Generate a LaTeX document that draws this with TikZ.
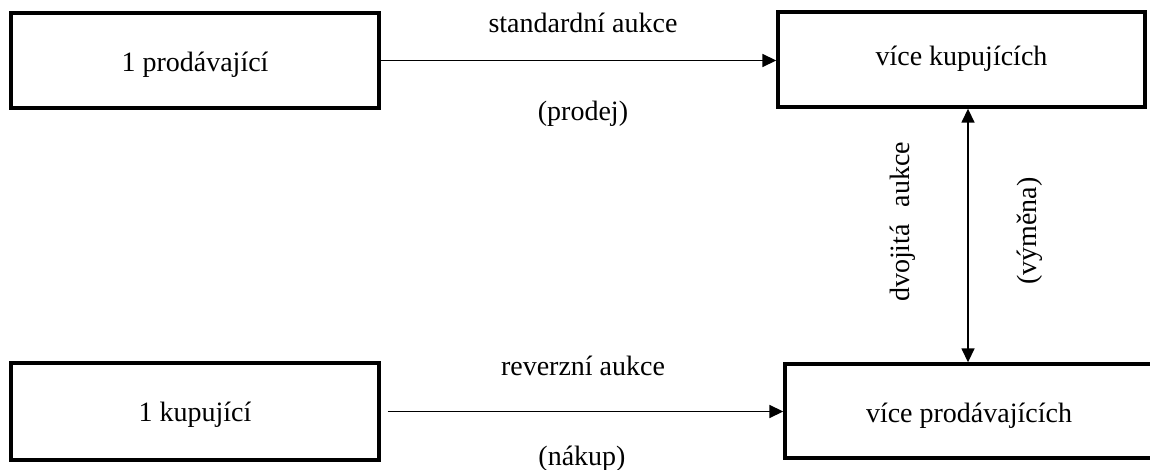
\documentclass[tikz,border=0pt]{standalone}
\usepackage{fontspec}
\setmainfont{Liberation Serif}
\usetikzlibrary{arrows.meta,calc}
\begin{document}
\begin{tikzpicture}[x=0.5pt,y=-0.5pt,
  box/.style={draw, line width=1.7pt, inner sep=0pt, font=\fontsize{14}{16}\selectfont, text depth=2pt},
  lbl/.style={font=\fontsize{14}{16}\selectfont, inner sep=0pt, anchor=base},
  conn/.style={line width=0.8pt, -{Triangle[length=7pt,width=6.5pt]}},
  biconn/.style={line width=0.8pt, {Triangle[length=7pt,width=6.5pt]}-{Triangle[length=7pt,width=6.5pt]}},
]
\useasboundingbox (0,0) rectangle (1150,470);
\node[box, text height=13.5pt, minimum width=184pt, minimum height=47.5pt] (tl) at (195,60.5) {1 prodávající};
\node[box, text height=8.5pt, minimum width=183.5pt, minimum height=47.5pt] (tr) at (961.5,59.5) {více kupujících};
\node[box, text height=11.5pt, minimum width=184pt, minimum height=48.5pt] (bl) at (195,411.5) {1 kupující};
\node[box, text height=13pt, minimum width=184pt, minimum height=47pt] (br) at (969,411) {více prodávajících};

\draw[conn] (tl.east) -- (tl.east -| tr.west);
\draw[conn, shorten <=3.5pt] (bl.east) -- (bl.east -| br.west);
\coordinate (v) at (968,0);
\draw[biconn] (tr.south -| v) -- (br.north -| v);

\node[lbl] (l1) at (583,33) {standardní aukce};
\node[lbl] (l2) at (583,121) {(prodej)};
\node[lbl] (l3) at (583,375) {reverzní aukce};
\node[lbl] (l4) at (582,465) {(nákup)};
\node[lbl, rotate=90] (l5) at (909,222) {dvojitá\hspace{0.6em}aukce};
\node[lbl, rotate=90] (l6) at (1036,231) {(výměna)};
\end{tikzpicture}
\end{document}
